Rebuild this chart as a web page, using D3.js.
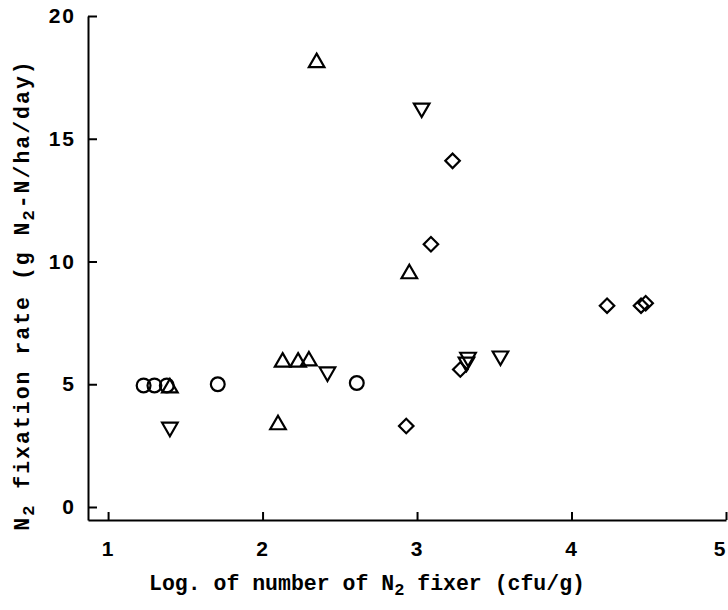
<!DOCTYPE html>
<html>
<head>
<meta charset="utf-8">
<script src="https://cdn.jsdelivr.net/npm/d3@7"></script>
<style>
  body { margin: 0; background: #fff; }
  .tick text { font-family: "Liberation Sans", Arial, sans-serif; font-weight: bold; font-size: 21px; letter-spacing: 2px; }
  .title { font-family: "Liberation Mono", monospace; font-weight: bold; font-size: 21.5px; }
</style>
</head>
<body>
<svg id="chart" width="728" height="610"></svg>
<script>
// series: log count (x) and fixation rate (y)
const circleX = [1.23, 1.30, 1.38, 1.71, 2.61];
const circleY = [4.95, 4.95, 4.95, 5.0, 5.05];
const triUpX = [1.40, 2.10, 2.13, 2.23, 2.30, 2.35, 2.95];
const triUpY = [4.85, 3.35, 5.9, 5.9, 5.95, 18.1, 9.5];
const triDownX = [1.40, 2.42, 3.03, 3.32, 3.33, 3.54];
const triDownY = [3.25, 5.5, 16.25, 5.9, 6.1, 6.15];
const diamondX = [2.93, 3.09, 3.23, 3.28, 4.23, 4.45, 4.48];
const diamondY = [3.3, 10.7, 14.1, 5.6, 8.2, 8.2, 8.3];

const xTicks = [1, 2, 3, 4, 5];
const yTicks = [0, 5, 10, 15, 20];

let svg = d3.select("#chart");

let x = d3.scaleLinear()
    .domain([0.87, 5])
    .range([88, 726]);

let y = d3.scaleLinear()
    .domain([-0.53, 20])
    .range([520, 16]);

// X axis, ticks pointing up
let gx = svg.append("g")
    .attr("transform", "translate(0,520)")
    .call(d3.axisBottom(x).tickValues(xTicks).tickFormat(d3.format("d"))
        .tickSizeInner(-8).tickSizeOuter(0).tickPadding(21));

// Y axis, ticks pointing right
let gy = svg.append("g")
    .attr("transform", "translate(88,0)")
    .call(d3.axisLeft(y).tickValues(yTicks).tickFormat(d3.format("d"))
        .tickSizeInner(-9).tickSizeOuter(0).tickPadding(12));

[gx, gy].forEach(function (g) {
    g.select(".domain").attr("stroke", "#000").attr("stroke-width", 2);
    g.selectAll(".tick line").attr("stroke", "#000").attr("stroke-width", 2);
    g.selectAll(".tick text").attr("fill", "#000");
});

// keep the last x label inside the frame
gx.selectAll(".tick text").filter(function (d) { return d === 5; }).attr("dx", -6);

// points
function pts(xs, ys) {
    return xs.map(function (v, i) { return [v, ys[i]]; });
}

let groups = [
    { data: pts(circleX, circleY), type: d3.symbolCircle, size: 150, rot: 0 },
    { data: pts(triUpX, triUpY), type: d3.symbolTriangle, size: 105, rot: 0 },
    { data: pts(triDownX, triDownY), type: d3.symbolTriangle, size: 105, rot: 180 },
    { data: pts(diamondX, diamondY), type: d3.symbolSquare, size: 105, rot: 45 }
];

groups.forEach(function (s) {
    svg.append("g")
        .selectAll("path")
        .data(s.data)
        .join("path")
        .attr("d", d3.symbol().type(s.type).size(s.size))
        .attr("transform", function (d) {
            return "translate(" + x(d[0]) + "," + y(d[1]) + ") rotate(" + s.rot + ")";
        })
        .attr("fill", "none")
        .attr("stroke", "#000")
        .attr("stroke-width", 2.2);
});

// axis titles
let xt = svg.append("text")
    .attr("class", "title")
    .attr("x", 367)
    .attr("y", 590)
    .attr("text-anchor", "middle");
xt.append("tspan").text("Log. of number of N");
xt.append("tspan").attr("baseline-shift", "-30%").attr("font-size", 17).text("2");
xt.append("tspan").text(" fixer (cfu/g)");

let yt = svg.append("text")
    .attr("class", "title")
    .attr("letter-spacing", 2)
    .attr("transform", "translate(29,295) rotate(-90)")
    .attr("text-anchor", "middle");
yt.append("tspan").text("N");
yt.append("tspan").attr("baseline-shift", "-30%").attr("font-size", 17).text("2");
yt.append("tspan").text(" fixation rate (g N");
yt.append("tspan").attr("baseline-shift", "-30%").attr("font-size", 17).text("2");
yt.append("tspan").text("-N/ha/day)");
</script>
</body>
</html>
